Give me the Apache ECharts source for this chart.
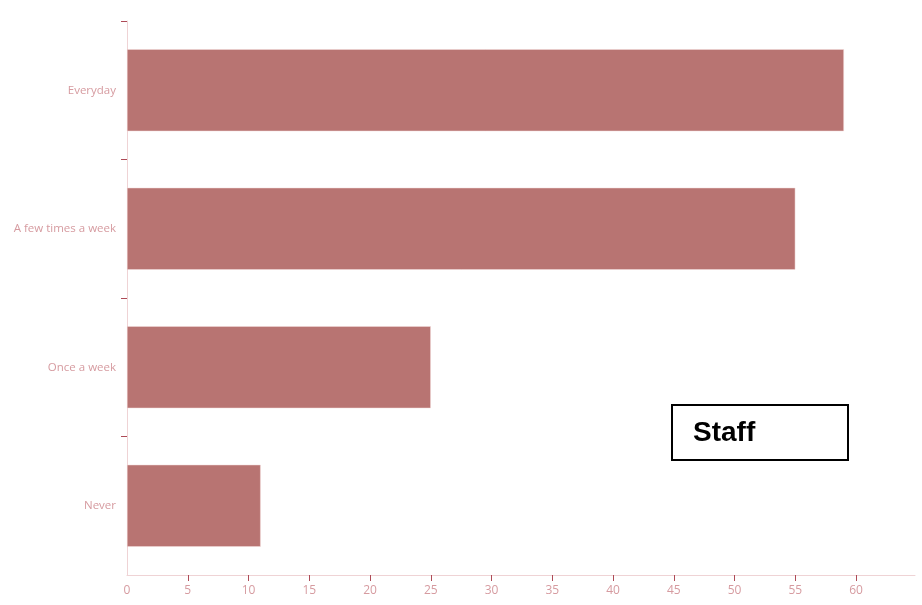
<!DOCTYPE html>
<html>
<head>
<meta charset="utf-8">
<script src="https://cdn.jsdelivr.net/npm/echarts@6/dist/echarts.min.js"></script>
<style>html,body{margin:0;padding:0;background:#fff;}#c{width:922px;height:605px;}</style>
</head>
<body>
<div id="c"></div>
<script>
const categories = ["Never", "Once a week", "A few times a week", "Everyday"];
const values = [11, 25, 55, 59];
const xTicks = [0, 5, 10, 15, 20, 25, 30, 35, 40, 45, 50, 55, 60];
const boxLabel = "Staff";

const chart = echarts.init(document.getElementById('c'), null, {renderer: 'canvas'});
chart.setOption({
  animation: false,
  backgroundColor: '#ffffff',
  grid: {left: 127, right: 7, top: 21, bottom: 30, containLabel: false},
  xAxis: {
    type: 'value',
    min: 0,
    max: 64.85,
    interval: 5,
    splitLine: {show: false},
    axisLine: {show: true, lineStyle: {color: '#efd3d5', width: 1}},
    axisTick: {show: true, length: 6, lineStyle: {color: '#ad4a56', width: 1}, customValues: xTicks.filter(function (v) { return v > 0; })},
    axisLabel: {color: '#d69ba0', fontSize: 12, fontFamily: 'Open Sans', margin: 10, customValues: xTicks}
  },
  yAxis: {
    type: 'category',
    data: categories,
    axisLine: {show: true, lineStyle: {color: '#efd3d5', width: 1}},
    axisTick: {show: true, length: 6, interval: function (idx) { return idx > 0; }, lineStyle: {color: '#ad4a56', width: 1}},
    axisLabel: {color: '#d69ba0', fontSize: 11.5, fontFamily: 'Open Sans', margin: 11, padding: [3, 0, 0, 0]},
    splitLine: {show: false}
  },
  series: [{
    type: 'bar',
    data: values,
    barWidth: 82,
    itemStyle: {color: '#b87472', borderColor: '#f3dada', borderWidth: 0.5}
  }],
  graphic: [{
    type: 'group',
    left: 671,
    top: 404,
    children: [
      {type: 'rect', shape: {x: 0, y: 0, width: 176, height: 55}, style: {fill: '#ffffff', stroke: '#000000', lineWidth: 2}},
      {type: 'text', x: 21, y: 28, style: {text: boxLabel, fill: '#000000', font: 'bold 28px "Liberation Sans", Arial, sans-serif', textVerticalAlign: 'middle'}}
    ]
  }]
});
</script>
</body>
</html>
